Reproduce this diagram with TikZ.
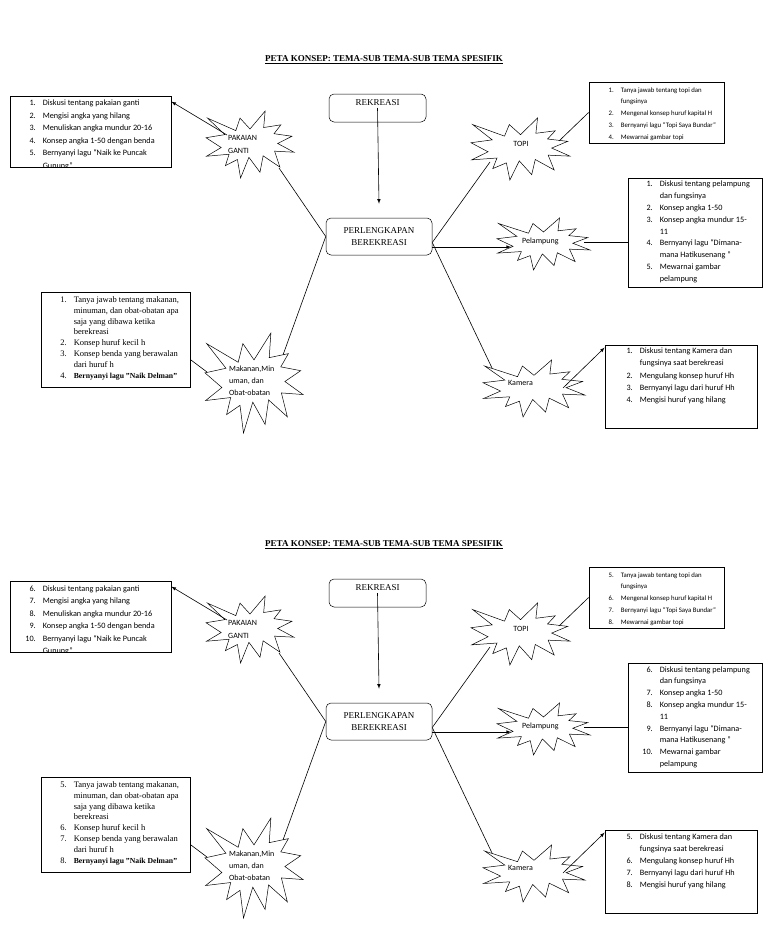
\documentclass[tikz,border=0pt]{standalone}
\usepackage{fontspec}
\setmainfont{Liberation Serif}
\newfontfamily\calibri{Carlito}
\usetikzlibrary{positioning}
\usetikzlibrary{arrows}
\usetikzlibrary{calc}
\tikzset{box/.style={draw,rounded corners=5pt,line width=0.5pt,font=\fontsize{9}{12.7}\selectfont,align=center}}
\tikzset{listbox/.style={draw,line width=0.8pt,inner sep=0pt}}
\tikzset{items/.style={font=\calibri\fontsize{8.2}{12}\selectfont,align=left,inner sep=0pt,anchor=north west}}
\tikzset{itemsserif/.style={items,font=\fontsize{8.5}{10.8}\selectfont}}
\tikzset{sealtext/.style={font=\calibri\fontsize{8}{13}\selectfont,align=left,inner sep=0pt,anchor=west}}
\tikzset{link/.style={draw,line width=0.6pt}}
\tikzset{arrow/.style={link,-latex}}
\newcommand{\seal}[3]{\draw[line width=0.5pt,shift={(#1)},x=#2,y=-#3] (0.5,0.2685) -- (0.3867,0.1063) -- (0.3385,0.2926) -- (0.0171,0.1063) -- (0.2142,0.3526) -- (0,0.3988) -- (0.1723,0.5451) -- (0.0063,0.6753) -- (0.2624,0.6452) -- (0.2205,0.8156) -- (0.3572,0.7235) -- (0.3928,1) -- (0.4876,0.6914) -- (0.6133,0.9138) -- (0.6491,0.6693) -- (0.84,0.8377) -- (0.7795,0.5992) -- (1,0.6153) -- (0.8151,0.485) -- (0.9767,0.3767) -- (0.7732,0.3387) -- (0.8509,0.2063) -- (0.6553,0.2465) -- (0.6723,0) -- cycle;}
\newcommand{\nr}[1]{\makebox[12pt][r]{#1.}\hspace{7pt}}
\newcommand{\nc}{\hspace*{19pt}}
\newcommand{\nf}[1]{\nr{\the\numexpr\five+#1\relax}}
\newcommand{\nq}[1]{\nr{\the\numexpr\four+#1\relax}}

\begin{document}
\begin{tikzpicture}[x=1pt,y=-1pt]
\useasboundingbox (0,0) rectangle (768,932);
\foreach \dy/\five/\four in {0/0/0,485/5/4}{
\begin{scope}[yshift=-\dy pt]
    \node[font=\bfseries\fontsize{9}{11}\selectfont] (judul\dy) at (384,60) {\underline{PETA KONSEP: TEMA-SUB TEMA-SUB TEMA SPESIFIK}};
    \node[box,minimum width=97pt,text height=6.5pt,text depth=11.5pt,inner ysep=5pt] (rekreasi\dy) at (377.5,108) {REKREASI};
    \node[box,minimum width=106pt,minimum height=37pt] (perlengkapan\dy) at (379,236.5) {PERLENGKAPAN\\BEREKREASI};
        \draw[arrow] (rekreasi\dy.center) -- ([yshift=14pt]perlengkapan\dy.north);

    \seal{206,111}{88pt}{67pt}
    \node[sealtext] (pakaian\dy) at (228,144.5) {PAKAIAN\\GANTI};
    \coordinate (pakaianin\dy) at (279,168);
    \coordinate (pakaianout\dy) at (227,135);
    \node[listbox,minimum width=161pt,minimum height=71pt] (pakaianlist\dy) at (90.5,131.5) {};
    \begin{scope}
        \clip (pakaianlist\dy.north west) rectangle (pakaianlist\dy.south east);
        \node[items,font=\calibri\fontsize{8.2}{12.5}\selectfont] (pakaianitems\dy) at ($(pakaianlist\dy.north west)+(14,4.5)$) {\nf{1}Diskusi tentang pakaian ganti\\\nf{2}Mengisi angka yang hilang\\\nf{3}Menuliskan angka mundur 20-16\\\nf{4}Konsep angka 1-50 dengan benda\\\nf{5}Bernyanyi lagu “Naik ke Puncak\\\nc Gunung”};
    \end{scope}
        \draw[link] (perlengkapan\dy.west) -- (pakaianin\dy);
        \draw[arrow] (pakaianout\dy) -- ($(pakaianlist\dy.north east)+(0,6)$);

    \seal{471,118}{99pt}{62pt}
    \node[sealtext,anchor=center] (topi\dy) at (521,144) {TOPI};
    \coordinate (topiin\dy) at (490,162);
    \coordinate (topiout\dy) at (559,141);
    \node[listbox,minimum width=135pt,minimum height=61pt] (topilist\dy) at (656.5,112.5) {};
    \node[items,font=\calibri\fontsize{6.8}{11.8}\selectfont] (topiitems\dy) at ($(topilist\dy.north west)+(13,5.5)$) {\nq{1}Tanya jawab tentang topi dan\\\nc fungsinya\\\nq{2}Mengenal konsep huruf kapital H\\\nq{3}Bernyanyi lagu “Topi Saya Bundar”\\\nq{4}Mewarnai gambar topi};
        \draw[link] ([yshift=-6pt]perlengkapan\dy.east) -- (topiin\dy);
        \draw[link] (topiout\dy) -- (topilist\dy.west);

    \seal{497,218}{93pt}{52pt}
    \node[sealtext] (pelampung\dy) at (522,241) {Pelampung};
    \coordinate (pelampungin\dy) at (511,247);
    \coordinate (pelampungout\dy) at (584,242);
    \node[listbox,minimum width=134pt,minimum height=109pt] (pelampunglist\dy) at (695,232.5) {};
    \node[items,font=\calibri\fontsize{8.2}{11.8}\selectfont] (pelampungitems\dy) at ($(pelampunglist\dy.north west)+(13,3.5)$) {\nf{1}Diskusi tentang pelampung\\\nc dan fungsinya\\\nf{2}Konsep angka 1-50\\\nf{3}Konsep angka mundur 15-\\\nc 11\\\nf{4}Bernyanyi lagu “Dimana-\\\nc mana Hatikusenang ”\\\nf{5}Mewarnai gambar\\\nc pelampung};
        \draw[arrow] (perlengkapan\dy.east |- pelampungin\dy) -- (pelampungin\dy);
        \draw[link] (pelampungout\dy) -- (pelampungout\dy -| pelampunglist\dy.west);

    \seal{483,360}{102pt}{57pt}
    \node[sealtext] (kamera\dy) at (508,383) {Kamera};
    \coordinate (kamerain\dy) at (492,368);
    \coordinate (kameraout\dy) at (563,388);
    \node[listbox,minimum width=152pt,minimum height=83pt] (kameralist\dy) at (681,386.5) {};
    \node[items] (kameraitems\dy) at ($(kameralist\dy.north west)+(16,3.5)$) {\nq{1}Diskusi tentang Kamera dan\\\nc fungsinya saat berekreasi\\\nq{2}Mengulang konsep huruf Hh\\\nq{3}Bernyanyi lagu dari huruf Hh\\\nq{4}Mengisi huruf yang hilang};
        \draw[link] ([yshift=-6pt]perlengkapan\dy.east) -- (kamerain\dy);
        \draw[arrow] (kameraout\dy) -- ($(kameralist\dy.north west)+(0,3)$);

    \seal{205,333}{98pt}{100pt}
    \node[sealtext,font=\calibri\fontsize{8}{12}\selectfont] (makanan\dy) at (229,381) {Makanan,Min\\uman, dan\\Obat-obatan};
    \coordinate (makananin\dy) at (283,355);
    \coordinate (makananout\dy) at (207,372);
    \node[listbox,minimum width=149pt,minimum height=95pt] (makananlist\dy) at (115.5,339.5) {};
    \node[itemsserif] (makananitems\dy) at ($(makananlist\dy.north west)+(14,4.8)$) {\nq{1}Tanya jawab tentang makanan,\\\nc minuman, dan obat-obatan apa\\\nc saja yang dibawa ketika\\\nc berekreasi\\\nq{2}Konsep huruf kecil h\\\nq{3}Konsep benda yang berawalan\\\nc dari huruf h\\\nq{4}\textbf{\fontsize{7.7}{10.8}\selectfont Bernyanyi lagu "Naik Delman"}};
        \draw[link] (perlengkapan\dy.west) -- (makananin\dy);
        \draw[link] (makananout\dy) -- ($(makananlist\dy.north east)+(0,68)$);
\end{scope}}
\end{tikzpicture}
\end{document}
